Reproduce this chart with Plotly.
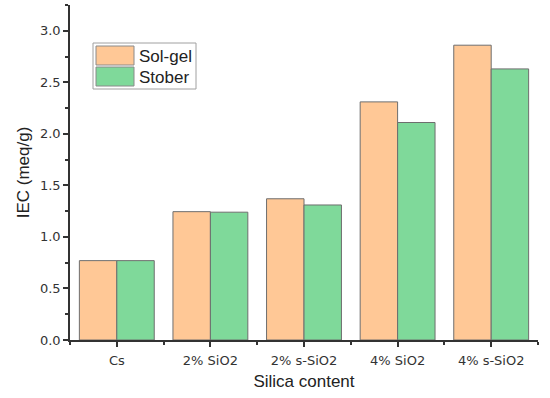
import plotly.graph_objects as go

categories = ["Cs", "2% SiO2", "2% s-SiO2", "4% SiO2", "4% s-SiO2"]
sol_gel = [0.77, 1.245, 1.37, 2.31, 2.86]
stober = [0.77, 1.24, 1.31, 2.11, 2.63]
series_names = ["Sol-gel", "Stober"]
colors = ["#FFC896", "#7FD99A"]

xpos = list(range(len(categories)))

fig = go.Figure()
for name, vals, col in zip(series_names, [sol_gel, stober], colors):
    fig.add_trace(go.Bar(
        x=xpos, y=vals, name=name,
        marker=dict(color=col, line=dict(color="#6E6E6E", width=1)),
        showlegend=False,
    ))

# plot area geometry in px
L, R, T, B = 70, 538, 5, 340
W, H = R - L, B - T
def px(xp):
    return (xp - L) / W
def py(yp):
    return (B - yp) / H

shapes = [
    dict(type="rect", xref="paper", yref="paper", x0=px(93), x1=px(196), y0=py(89), y1=py(43),
         line=dict(color="#A0A0A0", width=1), fillcolor="white", layer="above"),
    dict(type="rect", xref="paper", yref="paper", x0=px(96), x1=px(134), y0=py(65), y1=py(46),
         line=dict(color="#8A8A8A", width=1), fillcolor=colors[0], layer="above"),
    dict(type="rect", xref="paper", yref="paper", x0=px(96), x1=px(134), y0=py(86), y1=py(67),
         line=dict(color="#8A8A8A", width=1), fillcolor=colors[1], layer="above"),
]
annotations = [
    dict(xref="paper", yref="paper", x=px(137), y=py(56), text=series_names[0], showarrow=False,
         xanchor="left", yanchor="middle",
         font=dict(family="Liberation Sans, Arial, sans-serif", size=17, color="#222")),
    dict(xref="paper", yref="paper", x=px(137), y=py(77), text=series_names[1], showarrow=False,
         xanchor="left", yanchor="middle",
         font=dict(family="Liberation Sans, Arial, sans-serif", size=17, color="#222")),
]

fig.update_layout(
    width=550, height=398,
    margin=dict(l=L, r=550 - R, t=T, b=398 - B),
    paper_bgcolor="white", plot_bgcolor="white",
    barmode="group", bargap=0.2, bargroupgap=0,
    font=dict(family="DejaVu Sans, sans-serif", size=13, color="#222"),
    shapes=shapes, annotations=annotations,
    showlegend=False,
)
fig.update_xaxes(
    range=[-0.5, 4.5], tickmode="array", tickvals=xpos, ticktext=categories,
    showline=True, linecolor="#333", linewidth=1.5, showgrid=False, zeroline=False,
    ticks="outside", ticklen=5, tickcolor="#333", tickwidth=1.5,
    minor=dict(ticks="outside", ticklen=3, tickcolor="#333", dtick=0.5, tick0=0, showgrid=False),
    title=dict(text="Silica content", standoff=8,
               font=dict(family="Liberation Sans, Arial, sans-serif", size=17, color="#222")),
    tickfont=dict(size=13, family="DejaVu Sans, sans-serif", color="#333"),
    ticklabelstandoff=3,
    automargin=False,
)
fig.update_yaxes(
    range=[0, 3.25], dtick=0.5, tick0=0, tickformat=".1f",
    showline=True, linecolor="#333", linewidth=1.5, showgrid=False, zeroline=False,
    ticks="outside", ticklen=5, tickcolor="#333", tickwidth=1.5,
    minor=dict(ticks="outside", ticklen=3, tickcolor="#333", dtick=0.25, showgrid=False),
    title=dict(text="IEC (meq/g)", standoff=6,
               font=dict(family="Liberation Sans, Arial, sans-serif", size=17, color="#222")),
    tickfont=dict(size=13, family="DejaVu Sans, sans-serif", color="#333"),
    automargin=False,
)

fig.write_html("out.html", config={"displayModeBar": False},
               post_script="document.body.style.margin='0';")
